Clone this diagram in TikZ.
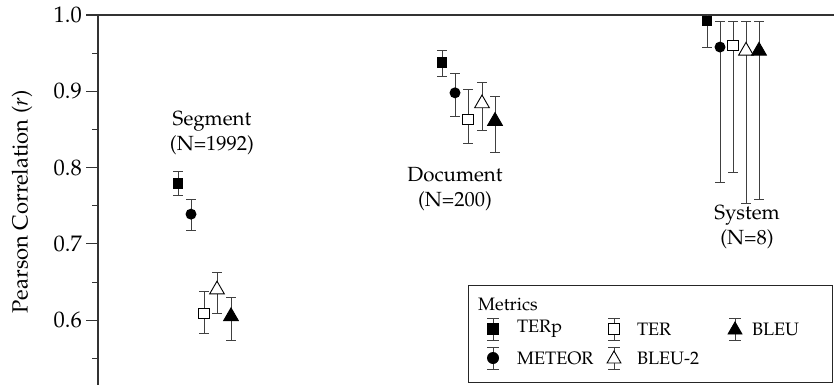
\documentclass[tikz,border=0pt]{standalone}
\usepackage[T1]{fontenc}
\usepackage{mathpazo}
\usetikzlibrary{shapes.geometric}

\tikzset{
  axisline/.style={line width=1.1pt, draw=black!80},
  ebarline/.style={line width=1pt, draw=black!75},
  mksqf/.style={rectangle, fill=black, inner sep=0pt, minimum size=#1},
  mksqo/.style={rectangle, draw=black, line width=0.9pt, fill=white, inner sep=0pt, minimum size=#1},
  mkcirc/.style={circle, fill=black, inner sep=0pt, minimum size=#1},
  mktrio/.style={regular polygon, regular polygon sides=3, draw=black, line width=0.9pt, fill=white, inner sep=0pt, minimum size=#1},
  mktrif/.style={regular polygon, regular polygon sides=3, draw=black, line width=0.9pt, fill=black, inner sep=0pt, minimum size=#1},
  ticklab/.style={anchor=east, font=\fontsize{22.5}{22.5}\selectfont, inner sep=0pt},
  grouplab/.style={font=\fontsize{20.5}{25}\selectfont, align=center, inner sep=0pt},
  legtext/.style={anchor=west, font=\fontsize{18}{18}\selectfont, inner sep=0pt},
}

% error bar: x, low, high, cap half width
\newcommand\errbar[4]{%
  \draw[ebarline] (#1,#2) -- (#1,#3);
  \draw[ebarline] ([xshift=-#4]#1,#2) -- ([xshift=#4]#1,#2);
  \draw[ebarline] ([xshift=-#4]#1,#3) -- ([xshift=#4]#1,#3);
}
% error bar without the upper cap (cut off by the frame)
\newcommand\errbarlow[4]{%
  \draw[ebarline] (#1,#2) -- (#1,#3);
  \draw[ebarline] ([xshift=-#4]#1,#2) -- ([xshift=#4]#1,#2);
}

\begin{document}
\begin{tikzpicture}[x=1pt, y=-1pt]
\useasboundingbox (0,0) rectangle (834,385);

% axes
\draw[axisline] (86,15) -- (834,15);
\draw[axisline] (98,15) -- (98,385);
\foreach \v/\t in {1.0/1.0, 0.9/0.9, 0.8/0.8, 0.7/0.7, 0.6/0.6} {
  \pgfmathsetmacro\yy{15+(1-\v)*763}
  \draw[axisline] (86,\yy) -- (98,\yy);
  \node[ticklab] (tick\t) at (82,\yy) {\t};
}
\foreach \v in {0.95, 0.85, 0.75, 0.65, 0.55} {
  \pgfmathsetmacro\yy{15+(1-\v)*763}
  \draw[axisline] (92,\yy) -- (98,\yy);
}
\node[rotate=90, font=\fontsize{22}{22}\selectfont] (ylab) at (22,202) {Pearson Correlation (\textit{r})};

% group labels
\node[grouplab] (segment) at (212,133) {Segment\\(N=1992)};
\node[grouplab] (document) at (455,189) {Document\\(N=200)};
\node[grouplab] (system) at (747,227) {System\\(N=8)};

% data, in value units
\begin{scope}[x=1pt, y=763pt, yshift=-778pt]
  % Segment
  \errbar{178}{0.763}{0.795}{5pt}
  \errbar{191}{0.718}{0.758}{5pt}
  \errbar{204}{0.582}{0.637}{5pt}
  \errbar{217}{0.609}{0.663}{5pt}
  \errbar{231}{0.574}{0.630}{5pt}
  \node[mksqf=10.5pt] (seg-terp) at (178,0.779) {};
  \node[mkcirc=11pt] (seg-meteor) at (191,0.739) {};
  \node[mksqo=10.5pt] (seg-ter) at (204,0.609) {};
  \node[mktrio=17pt] (seg-bleu2) at (217,0.640) {};
  \node[mktrif=17pt] (seg-bleu) at (231,0.605) {};
  % Document
  \errbar{442}{0.920}{0.953}{5pt}
  \errbar{455}{0.867}{0.923}{5pt}
  \errbar{468}{0.831}{0.903}{5pt}
  \errbar{482}{0.848}{0.911}{5pt}
  \errbar{495}{0.820}{0.893}{5pt}
  \node[mksqf=10.5pt] (doc-terp) at (442,0.938) {};
  \node[mkcirc=11pt] (doc-meteor) at (455,0.898) {};
  \node[mksqo=10.5pt] (doc-ter) at (468,0.863) {};
  \node[mktrio=17pt] (doc-bleu2) at (482,0.884) {};
  \node[mktrif=17pt] (doc-bleu) at (495,0.861) {};
  % System
  \errbarlow{707}{0.958}{1.0}{5pt}
  \errbar{720}{0.780}{0.991}{5pt}
  \errbar{733}{0.793}{0.991}{5pt}
  \errbar{746}{0.753}{0.991}{5pt}
  \errbar{759}{0.758}{0.991}{5pt}
  \node[mksqf=10.5pt] (sys-terp) at (707,0.992) {};
  \node[mkcirc=11pt] (sys-meteor) at (720,0.958) {};
  \node[mksqo=10.5pt] (sys-ter) at (733,0.960) {};
  \node[mktrio=17pt] (sys-bleu2) at (746,0.953) {};
  \node[mktrif=17pt] (sys-bleu) at (759,0.953) {};
\end{scope}

% legend
\draw[line width=0.9pt, draw=black!85, fill=white] (468,285) rectangle (832,382);
\node[legtext] (legtitle) at (478,304) {Metrics};
\errbar{493}{318}{340}{6pt}
\errbar{493}{347}{369}{6pt}
\errbar{614}{318}{340}{6pt}
\errbar{614}{347}{369}{6pt}
\errbar{735}{318}{340}{6pt}
\node[mksqf=12pt] (leg-terp) at (493,329) {};
\node[mkcirc=12pt] (leg-meteor) at (493,358) {};
\node[mksqo=11pt] (leg-ter) at (614,329) {};
\node[mktrio=16pt] (leg-bleu2) at (614,359) {};
\node[mktrif=16pt] (leg-bleu) at (735,330) {};
\node[legtext] (lt-terp) at (517,329) {TERp};
\node[legtext] (lt-meteor) at (517,358) {METEOR};
\node[legtext] (lt-ter) at (637,329) {TER};
\node[legtext] (lt-bleu2) at (637,358) {BLEU-2};
\node[legtext] (lt-bleu) at (752,329) {BLEU};
\end{tikzpicture}
\end{document}
